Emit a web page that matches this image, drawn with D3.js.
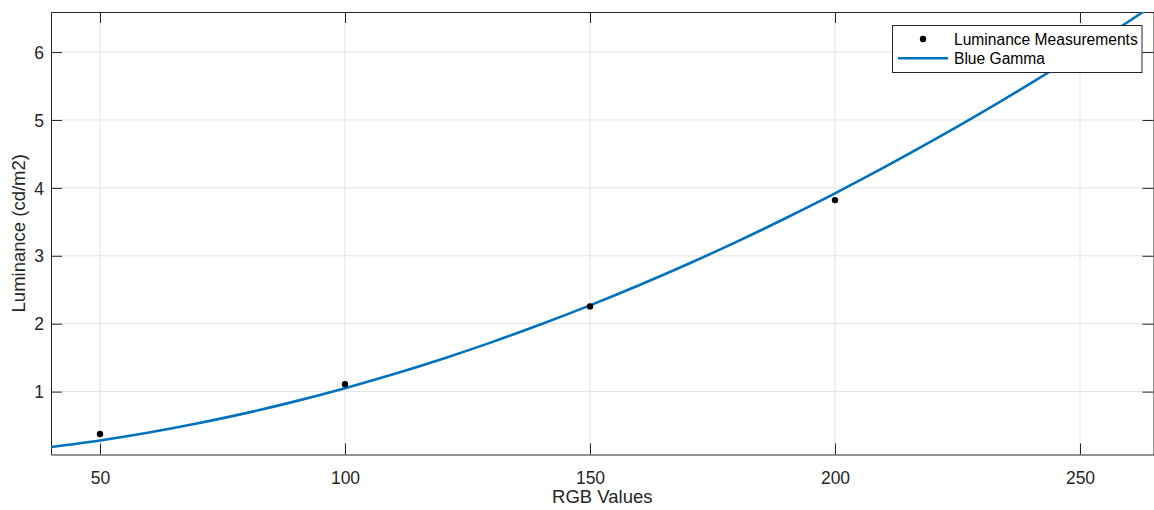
<!DOCTYPE html>
<html><head><meta charset="utf-8">
<script src="https://cdn.jsdelivr.net/npm/d3@7"></script>
<style>
html,body{margin:0;padding:0;background:#fff;}
svg{display:block;font-family:"Liberation Sans",Arial,Helvetica,sans-serif;}
</style></head>
<body><svg id="chart" width="1154" height="510"></svg>
<script>
// Measured points
const measRGB = [50, 100, 150, 200];
const measLum = [0.376, 1.108, 2.255, 3.82];
// Fitted gamma curve
const curveRGB = [40, 50, 60, 70, 80, 90, 100, 110, 120, 130, 140, 150, 160, 170, 180, 190, 200, 210, 220, 230, 240, 250, 260, 270];
const curveLum = [0.184, 0.281, 0.398, 0.534, 0.687, 0.860, 1.051, 1.259, 1.485, 1.729, 1.991, 2.270, 2.566, 2.879, 3.209, 3.557, 3.920, 4.301, 4.698, 5.112, 5.543, 5.990, 6.454, 6.934];
const xTicks = [50, 100, 150, 200, 250];
const yTicks = [1, 2, 3, 4, 5, 6];
const xDomain = [40, 265];
const yDomain = [0.074, 6.59];
const labels = {x: "RGB Values", y: "Luminance (cd/m2)", meas: "Luminance Measurements", fit: "Blue Gamma"};

const svg = d3.select("#chart");
const L = 51, R = 1153.5, T = 12, B = 454.5;
const x = d3.scaleLinear().domain(xDomain).range([L, R]);
const y = d3.scaleLinear().domain(yDomain).range([B, T]);
const axisCol = "#262626", gridCol = "#e3e3e3", blue = "#0072BD";
const fam = '"Liberation Sans",Arial,sans-serif';

// grid
const g = svg.append("g");
g.selectAll(".gx").data(xTicks).join("line")
  .attr("x1", d => x(d)).attr("x2", d => x(d)).attr("y1", T).attr("y2", B)
  .attr("stroke", gridCol).attr("stroke-width", 1);
g.selectAll(".gy").data(yTicks).join("line")
  .attr("y1", d => y(d)).attr("y2", d => y(d)).attr("x1", L).attr("x2", R)
  .attr("stroke", gridCol).attr("stroke-width", 1);

// axes with inward ticks via d3 axis
const tl = 11;
const fmt = d3.format("d");
const ax = svg.append("g").attr("transform", `translate(0,${B})`)
  .call(d3.axisBottom(x).tickValues(xTicks).tickFormat(fmt).tickSizeInner(-tl).tickSizeOuter(0).tickPadding(17));
const axTop = svg.append("g").attr("transform", `translate(0,${T})`)
  .call(d3.axisTop(x).tickValues(xTicks).tickSizeInner(-tl).tickSizeOuter(0).tickFormat(""));
const ay = svg.append("g").attr("transform", `translate(${L},0)`)
  .call(d3.axisLeft(y).tickValues(yTicks).tickFormat(fmt).tickSizeInner(-tl).tickSizeOuter(0).tickPadding(7));
const ayR = svg.append("g").attr("transform", `translate(${R},0)`)
  .call(d3.axisRight(y).tickValues(yTicks).tickSizeInner(-tl).tickSizeOuter(0).tickFormat(""));
[ax, axTop, ay, ayR].forEach(a => {
  a.attr("font-size", null).attr("font-family", null);
  a.select(".domain").attr("stroke", axisCol).attr("stroke-width", 1);
  a.selectAll(".tick line").attr("stroke", axisCol).attr("stroke-width", 1);
  a.selectAll(".tick text").attr("fill", "#262626").style("font-size", "17.5px")
   .style("font-family", fam);
});
ay.selectAll(".tick text").attr("dy", "0.35em");

// clip
svg.append("clipPath").attr("id", "clip").append("rect")
  .attr("x", L).attr("y", T).attr("width", R - L).attr("height", B - T);

const curveData = curveRGB.map((v, i) => [v, curveLum[i]]);
svg.append("path").datum(curveData).attr("clip-path", "url(#clip)")
  .attr("fill", "none").attr("stroke", blue).attr("stroke-width", 2.6)
  .attr("d", d3.line().x(d => x(d[0])).y(d => y(d[1])).curve(d3.curveMonotoneX));

svg.selectAll(".pt").data(measRGB.map((v, i) => [v, measLum[i]])).join("circle")
  .attr("cx", d => x(d[0])).attr("cy", d => y(d[1])).attr("r", 3.2).attr("fill", "#000");

// axis labels
svg.append("text").attr("x", (L + R) / 2).attr("y", 503).attr("text-anchor", "middle")
  .style("font-size", "18.5px").style("font-family", fam).attr("fill", "#262626").text(labels.x);
svg.append("text").attr("transform", `translate(25,${(T + B) / 2}) rotate(-90)`)
  .attr("text-anchor", "middle").style("font-size", "18.5px").style("font-family", fam)
  .attr("fill", "#262626").text(labels.y);

// legend
const lg = svg.append("g");
lg.append("rect").attr("x", 892.5).attr("y", 25.5).attr("width", 249.5).attr("height", 47)
  .attr("fill", "#fff").attr("stroke", axisCol).attr("stroke-width", 1);
lg.append("circle").attr("cx", 923).attr("cy", 39).attr("r", 3.2).attr("fill", "#000");
lg.append("line").attr("x1", 898).attr("x2", 948).attr("y1", 58.3).attr("y2", 58.3)
  .attr("stroke", blue).attr("stroke-width", 2.6);
lg.append("text").attr("x", 954).attr("y", 44.5).style("font-size", "15.6px").style("font-family", fam)
  .attr("fill", "#000").text(labels.meas);
lg.append("text").attr("x", 954).attr("y", 64).style("font-size", "15.6px").style("font-family", fam)
  .attr("fill", "#000").text(labels.fit);
</script></body></html>
